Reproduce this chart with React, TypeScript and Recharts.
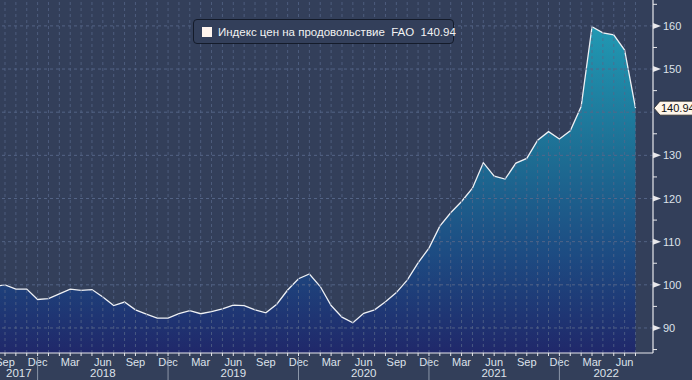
import React from "react";
import {
  AreaChart,
  Area,
  XAxis,
  YAxis,
  ReferenceLine,
} from "recharts";

// FAO food price index, monthly, Aug 2017 .. Jul 2022
const MONTH_NAMES = ["Jan", "Feb", "Mar", "Apr", "May", "Jun", "Jul", "Aug", "Sep", "Oct", "Nov", "Dec"];
const START_YEAR = 2017;
const START_MONTH = 7; // Aug
const VALUES = [
  99.6, 100.0, 99.0, 99.0, 96.6,
  96.8, 97.9, 99.0, 98.7, 98.9, 97.2, 95.2, 96.0, 94.2, 93.2, 92.3, 92.3,
  93.3, 94.0, 93.3, 93.8, 94.4, 95.3, 95.2, 94.2, 93.5, 95.5, 98.8, 101.4,
  102.5, 99.6, 95.2, 92.5, 91.2, 93.4, 94.2, 96.1, 98.2, 101.1, 105.1, 108.5,
  113.6, 116.7, 119.3, 122.4, 128.3, 125.2, 124.5, 128.2, 129.3, 133.5, 135.5, 133.8,
  135.7, 141.3, 159.8, 158.4, 157.9, 154.4, 140.94,
];
const Y_TICKS = [85, 90, 95, 100, 105, 110, 115, 120, 125, 130, 135, 140, 145, 150, 155, 160, 165];
const SERIES_NAME = "Индекс цен на продовольствие  FAO";

const W = 692;
const H = 380;
const AXIS_W = 39;
const AXIS_H = 27;
const PLOT_R = W - AXIS_W;
const PLOT_B = H - AXIS_H;
const X_MIN = 0.54;
const X_MAX = 60.61;
const PPM = PLOT_R / (X_MAX - X_MIN);

const BG = "#333f5a";
const GRID = "#56678a";
const TXT = "#dde2ea";
const AXIS = "#e8e8ec";

const monthOf = (i: number) => (START_MONTH + i) % 12;
const yearOf = (i: number) => START_YEAR + Math.floor((START_MONTH + i) / 12);

const data = VALUES.map((v, i) => ({
  i,
  label: `${MONTH_NAMES[monthOf(i)]} ${yearOf(i)}`,
  value: v,
}));
const last = VALUES[VALUES.length - 1];
const xTicks = data.map((d) => d.i).filter((i) => i >= 1);
// the last-value tag covers the nearest major tick
const yTicks = [...Y_TICKS.filter((t) => Math.abs(t - last) > 2), last];

const XTick = (props: any) => {
  const { x, payload } = props;
  const i = payload.value as number;
  const m = monthOf(i);
  const out: React.ReactNode[] = [
    <line key="t" x1={x} x2={x} y1={PLOT_B} y2={PLOT_B + 3} stroke={AXIS} strokeWidth={1} />,
  ];
  if (m % 3 === 2) {
    out.push(
      <text key="m" x={x} y={PLOT_B + 13} textAnchor="middle" fill={TXT} fontSize={11}>
        {MONTH_NAMES[m]}
      </text>
    );
  }
  if (m === 11) {
    out.push(<line key="s" x1={x} x2={x} y1={PLOT_B + 4} y2={H} stroke="#8c96a8" strokeWidth={1} />);
    const end = Math.min(i + 12, X_MAX);
    const cx = x + ((i + end) / 2 - i) * PPM;
    out.push(
      <text key="y" x={cx} y={PLOT_B + 24} textAnchor="middle" fill={TXT} fontSize={11.5}>
        {yearOf(i) + 1}
      </text>
    );
    if (i - 12 < X_MIN) {
      const cl = x + ((X_MIN + i) / 2 - i) * PPM;
      out.push(
        <text key="y0" x={cl} y={PLOT_B + 24} textAnchor="middle" fill={TXT} fontSize={11.5}>
          {yearOf(i)}
        </text>
      );
    }
  }
  return <g>{out}</g>;
};

const YTick = (props: any) => {
  const { y, payload } = props;
  const v = payload.value as number;
  const x = PLOT_R;
  if (v === last) {
    return (
      <g>
        <path
          d={`M${x + 1},${y} L${x + 7},${y - 7} L${W + 2},${y - 7} L${W + 2},${y + 7} L${x + 7},${y + 7} Z`}
          fill="#fff6ea"
          stroke="#222"
          strokeWidth={0.8}
        />
        <text x={x + 8} y={y + 4} fill="#111" fontSize={11}>
          {v.toFixed(2)}
        </text>
      </g>
    );
  }
  if (v % 10 === 0) {
    return (
      <g>
        <path d={`M${x},${y - 3} L${x + 8},${y} L${x},${y + 3} Z`} fill={AXIS} />
        <text x={x + 10} y={y + 4} fill={TXT} fontSize={11}>
          {v}
        </text>
      </g>
    );
  }
  return <line x1={x} x2={x + 4} y1={y} y2={y} stroke={AXIS} strokeWidth={1} />;
};

export default function App() {
  return (
    <div style={{ position: "relative", width: W, height: H, background: BG, fontFamily: "'Liberation Sans', Arial, sans-serif" }}>
      <style>{`body{margin:0}`}</style>
      <AreaChart width={W} height={H} data={data} margin={{ top: 0, right: 0, left: 0, bottom: 0 }}>
        <defs>
          <linearGradient id="fill" x1="0" y1="0" x2="0" y2="1">
            <stop offset="0%" stopColor="#2199b3" />
            <stop offset="40%" stopColor="#1d6d93" />
            <stop offset="70%" stopColor="#1d4b82" />
            <stop offset="100%" stopColor="#20286a" />
          </linearGradient>
        </defs>
        <XAxis
          dataKey="i"
          type="number"
          domain={[X_MIN, X_MAX]}
          allowDataOverflow
          ticks={xTicks}
          interval={0}
          height={AXIS_H}
          axisLine={{ stroke: AXIS, strokeWidth: 1.2 }}
          tickLine={false}
          tick={<XTick />}
        />
        <YAxis
          orientation="right"
          type="number"
          domain={[84.2, 166]}
          allowDataOverflow
          ticks={yTicks}
          interval={0}
          width={AXIS_W}
          axisLine={{ stroke: AXIS, strokeWidth: 1.2 }}
          tickLine={false}
          tick={<YTick />}
        />
        <Area
          type="linear"
          dataKey="value"
          stroke="#eef0f4"
          strokeWidth={1.3}
          fill="url(#fill)"
          fillOpacity={1}
          baseValue={84.2}
          isAnimationActive={false}
          dot={false}
          activeDot={false}
        />
        {xTicks.map((m) => (
          <ReferenceLine key={`v${m}`} x={m} stroke={GRID} strokeOpacity={0.75} strokeDasharray="3 3" />
        ))}
        {Y_TICKS.filter((t) => t % 10 === 0 && t <= 160).map((t) => (
          <ReferenceLine key={`h${t}`} y={t} stroke={GRID} strokeOpacity={0.9} strokeDasharray="3 3" />
        ))}
      </AreaChart>
      <div
        style={{
          position: "absolute",
          left: 193,
          top: 19,
          width: 261,
          height: 25,
          border: "1px solid #141b2a",
          borderRadius: 4,
          background: BG,
          display: "flex",
          alignItems: "center",
          boxSizing: "border-box",
          paddingLeft: 8,
          color: "#f2f2f2",
          fontSize: 11.5,
          whiteSpace: "pre",
        }}
      >
        <span style={{ width: 10, height: 10, flexShrink: 0, background: "#fff5ee", marginRight: 6, display: "inline-block" }} />
        {`${SERIES_NAME}  ${last.toFixed(2)}`}
      </div>
    </div>
  );
}
